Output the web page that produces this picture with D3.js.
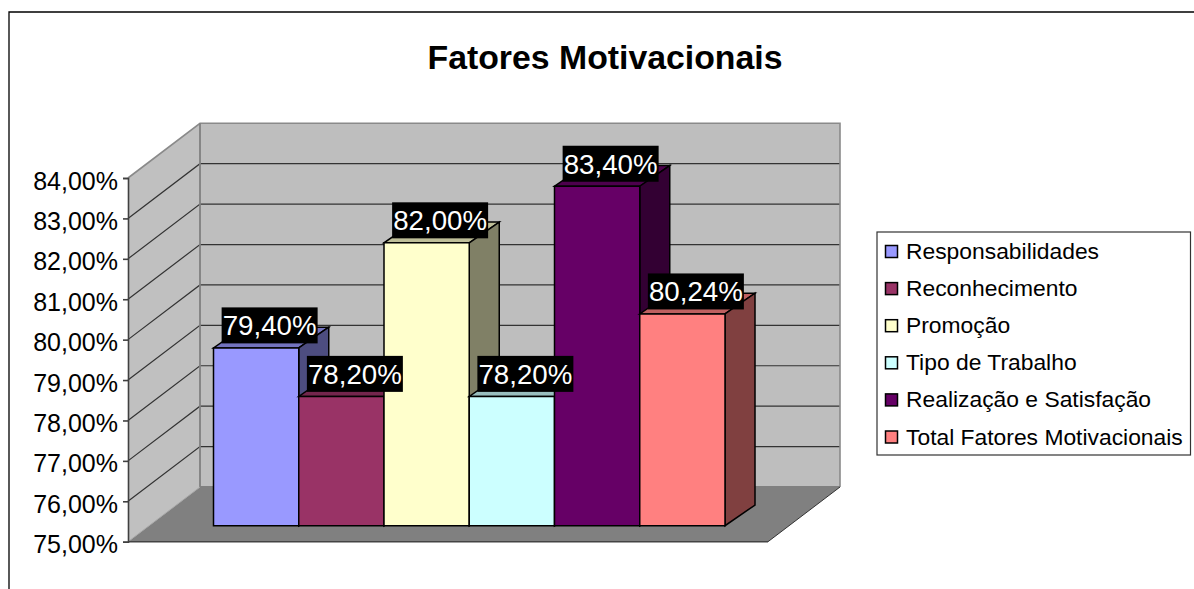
<!DOCTYPE html>
<html><head><meta charset="utf-8">
<script src="https://cdn.jsdelivr.net/npm/d3@7"></script>
<style>html,body{margin:0;padding:0;background:#fff}svg{display:block}text{font-family:"Liberation Sans",Arial,sans-serif}</style>
</head><body><div id="c"></div>
<script>
const titleText = "Fatores Motivacionais";
const categories = ["Responsabilidades","Reconhecimento","Promoção","Tipo de Trabalho","Realização e Satisfação","Total Fatores Motivacionais"];
const values = [79.40,78.20,82.00,78.20,83.40,80.24];
const colors = ["#9999FF","#993366","#FFFFCC","#CCFFFF","#660066","#FF8080"];
const ticks = [75,76,77,78,79,80,81,82,83,84];

const fmt = v => v.toFixed(2).replace(".", ",") + "%";
const W = 1194, H = 589;
const svg = d3.select("#c").append("svg").attr("width", W).attr("height", H);

// frame
svg.append("path").attr("d", `M9,${H}V12H${W}`).attr("fill","none").attr("stroke","#000").attr("stroke-width",1.3);

svg.append("text").attr("x",605).attr("y",68.5).attr("text-anchor","middle")
  .attr("font-size",33.8).attr("font-weight","bold").text(titleText);

// front-plane scale and 3D projection offsets
const y = d3.scaleLinear().domain([75,84]).range([541.7,178]);
const xL = 128, xR = 768, DX = 72, DY = -54.7;
const bx = d3.scaleBand().domain(categories).range([213.5,725]).padding(0);
const baseDrop = 525.7 - y(75);      // bars stand in from the front edge
const bdx = 30, bdy = -20.7;         // bar depth

const poly = pts => "M" + pts.map(p => p.join(",")).join("L") + "Z";
const g = svg.append("g");

// side wall, back wall, floor
g.append("path").attr("d", poly([[xL,y(75)],[xL+DX,y(75)+DY],[xL+DX,y(84)+DY],[xL,y(84)]])).attr("fill","#C0C0C0");
g.append("path").attr("d", poly([[xL+DX,y(75)+DY],[xR+DX,y(75)+DY],[xR+DX,y(84)+DY],[xL+DX,y(84)+DY]])).attr("fill","#BEBEBE");
g.append("path").attr("d", poly([[xL,y(75)],[xR,y(75)],[xR+DX,y(75)+DY],[xL+DX,y(75)+DY]])).attr("fill","#808080");

// gridlines
const inner = ticks.filter(t => t>75 && t<84);
g.selectAll("path.grid").data(inner).join("path").attr("class","grid")
  .attr("d", t => `M${xL},${y(t)}L${xL+DX},${y(t)+DY}H${xR+DX}`)
  .attr("fill","none").attr("stroke", "#333").attr("stroke-width",1.2);

// wall outlines
g.append("path").attr("d",`M${xL},${y(84)}L${xL+DX},${y(84)+DY}H${xR+DX}V${y(75)+DY}`).attr("fill","none").attr("stroke","#8a8a8a").attr("stroke-width",1.6);
g.append("path").attr("d",`M${xL+DX},${y(84)+DY}V${y(75)+DY}H${xR+DX}`).attr("fill","none").attr("stroke","#808080").attr("stroke-width",1.8);
g.append("path").attr("d",`M${xL},${y(75)}L${xL+DX},${y(75)+DY}`).attr("fill","none").attr("stroke","#a8a8a8").attr("stroke-width",1);
g.append("path").attr("d",`M${xR},${y(75)}L${xR+DX},${y(75)+DY}`).attr("fill","none").attr("stroke","#333").attr("stroke-width",1);
g.append("path").attr("d",`M${xL},${y(75)}H${xR}`).attr("fill","none").attr("stroke","#444").attr("stroke-width",1.5);

// axis line, ticks, labels
const axis = d3.axisLeft(y).tickValues(ticks).tickSize(5).tickPadding(5).tickFormat(fmt);
const ax = svg.append("g").attr("transform",`translate(${xL},0)`).call(axis);
ax.selectAll("path,line").attr("stroke","#404040").attr("stroke-width",1.6);
ax.selectAll("text").attr("font-size",25).attr("fill","#000").attr("font-family","Liberation Sans").attr("dy","0.72em").attr("y",-7);

// bars
const shade = (c,k) => { const r=d3.rgb(c); return d3.rgb(r.r*k,r.g*k,r.b*k).formatHex(); };
const bars = svg.append("g").selectAll("g").data(categories).join("g");
bars.each(function(c,i){
  const s = d3.select(this), x0 = bx(c), x1 = x0 + bx.bandwidth();
  const bot = y(75) + baseDrop, top = y(values[i]) + baseDrop;
  const attrs = sel => sel.attr("stroke","#000").attr("stroke-width",1.5).attr("stroke-linejoin","miter");
  s.append("path").attr("d",poly([[x0,top],[x1,top],[x1+bdx,top+bdy],[x0+bdx,top+bdy]])).attr("fill",shade(colors[i],.75)).call(attrs);
  s.append("path").attr("d",poly([[x1,top],[x1+bdx,top+bdy],[x1+bdx,bot+bdy],[x1,bot]])).attr("fill",shade(colors[i],.5)).call(attrs);
  s.append("path").attr("d",poly([[x0,top],[x1,top],[x1,bot],[x0,bot]])).attr("fill",colors[i]).call(attrs);
});

// data labels
const labels = svg.append("g").selectAll("g").data(categories).join("g")
  .attr("transform",(c,i)=>`translate(${bx(c)+bx.bandwidth()/2+13.5},${y(values[i])+baseDrop-22.5})`);
labels.append("rect").attr("x",-48).attr("y",-18).attr("width",96).attr("height",36).attr("fill","#000");
labels.append("text").attr("text-anchor","middle").attr("y",9.8).attr("font-size",27.7).attr("fill","#fff").text((c,i)=>fmt(values[i]));

// legend
const leg = svg.append("g");
leg.append("rect").attr("x",877).attr("y",232).attr("width",313.5).attr("height",223).attr("fill","#fff").attr("stroke","#333").attr("stroke-width",1.2);
const ly = d3.scalePoint().domain(categories).range([251.5,437]);
const rows = leg.selectAll("g").data(categories).join("g").attr("transform",c=>`translate(0,${ly(c)})`);
rows.append("rect").attr("x",885.5).attr("y",-6).attr("width",12).attr("height",12).attr("fill",(c,i)=>colors[i]).attr("stroke","#000").attr("stroke-width",1.5);
rows.append("text").attr("x",906).attr("y",7.5).attr("font-size",22.85).attr("fill","#000").text(c=>c);
</script></body></html>
